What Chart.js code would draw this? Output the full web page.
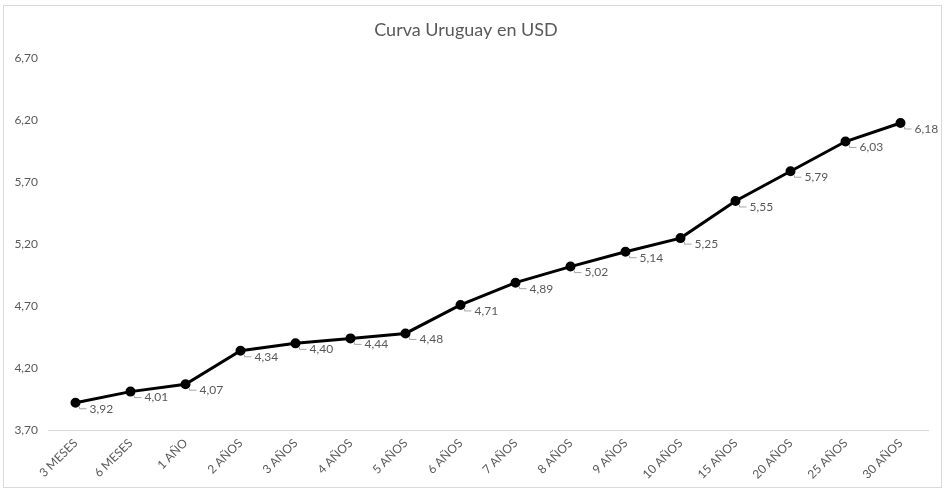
<!DOCTYPE html>
<html>
<head>
<meta charset="utf-8">
<script src="https://cdn.jsdelivr.net/npm/chart.js@4/dist/chart.umd.min.js"></script>
<style>
  html, body { margin: 0; padding: 0; background: #fff; }
  body { width: 948px; height: 492px; position: relative; overflow: hidden; }
  #frame {
    position: absolute; left: 3px; top: 5px; width: 939px; height: 483px;
    border: 1px solid #d9d9d9; box-sizing: border-box;
  }
  #wrap { position: absolute; left: 4px; top: 6px; width: 937px; height: 481px; }
</style>
</head>
<body>
<div id="frame"></div>
<div id="wrap"><canvas id="c"></canvas></div>
<script>
// plazos de la curva
const plazos = ['3 MESES', '6 MESES', '1 AÑO', '2 AÑOS', '3 AÑOS', '4 AÑOS', '5 AÑOS', '6 AÑOS',
  '7 AÑOS', '8 AÑOS', '9 AÑOS', '10 AÑOS', '15 AÑOS', '20 AÑOS', '25 AÑOS', '30 AÑOS']
// rendimientos (%)
const rendimientos = [3.92, 4.01, 4.07, 4.34, 4.40, 4.44, 4.48, 4.71, 4.89, 5.02, 5.14, 5.25, 5.55, 5.79, 6.03, 6.18]
// eje y
const yMin = 3.7
const yMax = 6.7
const yPaso = 0.5

const gris = '#595959'
const fuente = 'Lato, "Open Sans", sans-serif'
const fmt = v => v.toFixed(2).replace('.', ',')

// etiquetas de datos con guía corta, como en Excel
const etiquetas = {
  id: 'etiquetas',
  afterDatasetsDraw(chart) {
    const ctx = chart.ctx
    const meta = chart.getDatasetMeta(0)
    ctx.save()
    ctx.font = '12px ' + fuente
    ctx.fillStyle = gris
    ctx.strokeStyle = '#a6a6a6'
    ctx.lineWidth = 1
    ctx.textBaseline = 'middle'
    meta.data.forEach((pt, i) => {
      const x = pt.x, y = pt.y
      ctx.beginPath()
      ctx.moveTo(x + 4, y + 4)
      ctx.lineTo(x + 4, y + 6)
      ctx.lineTo(x + 11, y + 6)
      ctx.stroke()
      ctx.fillText(fmt(rendimientos[i]), x + 14, y + 6)
    })
    ctx.restore()
  }
}

new Chart(document.getElementById('c'), {
  type: 'line',
  data: {
    labels: plazos,
    datasets: [{
      data: rendimientos,
      borderColor: '#000',
      borderWidth: 3,
      pointRadius: 3.5,
      pointBackgroundColor: '#000',
      pointBorderColor: '#000',
      tension: 0
    }]
  },
  options: {
    responsive: true,
    maintainAspectRatio: false,
    animation: false,
    layout: { padding: { top: 0, right: 13, bottom: 0, left: 0 } },
    plugins: {
      legend: { display: false },
      tooltip: { enabled: false },
      title: {
        display: true,
        text: 'Curva Uruguay en USD',
        color: gris,
        font: { family: fuente, size: 18, weight: 'normal' },
        padding: { top: 13, bottom: 18 }
      }
    },
    scales: {
      x: {
        offset: true,
        grid: { display: false, drawTicks: false },
        border: { display: true, color: '#d9d9d9', width: 1 },
        ticks: {
          color: gris,
          font: { family: fuente, size: 12 },
          minRotation: 45,
          maxRotation: 45,
          padding: 6,
          autoSkip: false
        },
        afterFit(s) { s.height = 57 }
      },
      y: {
        min: yMin,
        max: yMax,
        grid: { display: false, drawTicks: false },
        border: { display: false },
        ticks: {
          stepSize: yPaso,
          color: gris,
          font: { family: fuente, size: 12 },
          padding: 10,
          callback: v => fmt(v)
        },
        afterFit(s) { s.width = 44 }
      }
    }
  },
  plugins: [etiquetas]
})
</script>
</body>
</html>
